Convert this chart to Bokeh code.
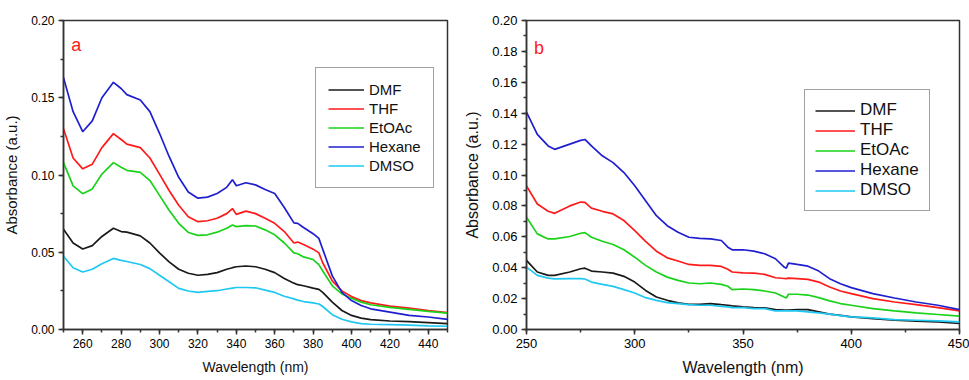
from bokeh.plotting import figure
from bokeh.layouts import row
from bokeh.models import SingleIntervalTicker, PrintfTickFormatter, Legend, LegendItem, Label, Range1d
from bokeh.embed import file_html
from bokeh.resources import INLINE

# ---------------- Panel a data ----------------
wl_a = [250, 255, 260, 265, 270, 276, 280, 283, 290, 295, 300, 305, 310, 315, 320, 325, 330, 335, 338, 340,
        345, 350, 355, 360, 365, 370, 372, 375, 380, 383, 385, 390, 395, 400, 405, 410, 420, 430, 440, 450]
dmf_a = [.0649, .056, .0521, .0543, .0602, .0655, .0634, .063, .0606, .056, .0496, .0438, .039, .0364, .0351, .0357,
         .0368, .039, .040, .0406, .0411, .0406, .039, .0368, .033, .030, .029, .0283, .0268, .026, .024, .0177, .0123,
         .0091, .0074, .0064, .0055, .0051, .0045, .0038]
thf_a = [.130, .111, .104, .107, .1177, .1268, .123, .120, .1177, .111, .1006, .090, .0804, .073, .0698, .0704, .072,
         .075, .0783, .0745, .0766, .075, .072, .0687, .0634, .056, .0566, .055, .052, .0496, .0432, .0315, .025,
         .0213, .0187, .0172, .0151, .0138, .0123, .0109]
etoac_a = [.108, .093, .0879, .091, .1006, .108, .105, .103, .1017, .0964, .0868, .0772, .0687, .0628, .0609, .0613,
           .063, .0655, .0677, .0666, .0672, .067, .0645, .0613, .056, .0496, .049, .047, .0453, .042, .0379, .0283,
           .023, .0202, .0177, .016, .0143, .013, .0117, .0106]
hexane_a = [.163, .141, .128, .135, .150, .160, .156, .152, .1485, .141, .127, .112, .0985, .089, .085, .0857, .088,
            .092, .097, .093, .095, .0936, .0906, .088, .079, .069, .0687, .066, .062, .059, .052, .0347, .024, .0187,
            .0155, .0134, .0113, .0091, .0081, .0066]
dmso_a = [.0474, .040, .0372, .039, .0425, .046, .0447, .044, .0421, .0394, .0351, .0309, .0266, .0249, .024, .0247,
          .0251, .0262, .0268, .0272, .0272, .027, .0255, .024, .0215, .0198, .019, .0181, .0172, .0165, .0149, .0096,
          .0066, .0049, .0038, .0034, .0032, .0028, .0023, .0021]

# ---------------- Panel b data ----------------
wl_b = [250, 255, 260, 263, 270, 275, 277, 280, 285, 290, 295, 300, 305, 310, 315, 320, 325, 330, 335, 340,
        343, 345, 350, 355, 360, 365, 369, 370, 371, 375, 380, 385, 390, 395, 400, 410, 420, 430, 440, 450]
dmf_b = [.0447, .0372, .035, .035, .0372, .0393, .0397, .0378, .0372, .0365, .0344, .0307, .0253, .021, .0189, .0172,
         .0163, .0163, .0168, .0161, .0157, .0153, .0146, .0142, .014, .0129, .0126, .0125, .0126, .0129, .0129, .0114,
         .0099, .0092, .0082, .0071, .006, .0054, .0049, .0039]
thf_b = [.093, .0812, .0765, .0752, .080, .0825, .0823, .0786, .0765, .0748, .0705, .064, .0571, .0507, .0464, .0443,
         .0421, .0415, .0415, .0408, .039, .0372, .0367, .0365, .0357, .0335, .033, .0329, .0332, .0329, .0324, .0307,
         .0275, .0249, .0232, .020, .0178, .0161, .0142, .012]
etoac_b = [.0726, .0619, .0586, .0586, .0602, .0623, .0627, .0597, .0571, .055, .0516, .0468, .0415, .0372, .0339,
           .0318, .0301, .0296, .0301, .0292, .028, .0258, .0262, .0258, .0249, .0236, .021, .0204, .0228, .0228,
           .0223, .0206, .0185, .0168, .0157, .0135, .012, .0107, .0097, .0086]
hexane_b = [.1407, .1263, .1188, .1166, .120, .1224, .123, .1188, .1124, .108, .1016, .093, .0833, .0737, .0672,
            .0629, .0597, .059, .0586, .0576, .0533, .0516, .0516, .0507, .049, .0458, .0404, .0397, .043, .0421,
            .041, .0378, .0329, .0296, .0271, .0232, .0204, .0178, .0157, .0129]
dmso_b = [.0404, .035, .0333, .0328, .0329, .0329, .0327, .0307, .0292, .0279, .0258, .0236, .0206, .0189, .0174,
          .0168, .0161, .0157, .0157, .015, .0146, .0142, .0142, .0135, .0135, .012, .012, .012, .012, .012, .0114,
          .0107, .0099, .009, .0082, .0075, .0064, .006, .0056, .0049]

solvents = ["DMF", "THF", "EtOAc", "Hexane", "DMSO"]
colors = ["#1a1a1a", "#ff1a1a", "#1ad21a", "#1f1fd0", "#1ec8f2"]
FONT = "Liberation Sans"


def make_panel(width, border_left, border_right, border_top, border_bottom, wl, series, x_int, y_int, y_max,
               tick_fs, title_fs, legend_fs, legend_loc, legend_pad, glyph_w, letter, letter_pos):
    p = figure(width=width, height=380, output_backend="svg", toolbar_location=None,
               x_range=Range1d(250, 450), y_range=Range1d(0, y_max),
               min_border_left=border_left, min_border_right=border_right,
               min_border_top=border_top, min_border_bottom=border_bottom)
    p.grid.visible = False
    p.outline_line_color = "#333333"
    p.outline_line_width = 1.5
    p.background_fill_color = "white"
    p.border_fill_color = "white"

    p.xaxis.ticker = SingleIntervalTicker(interval=x_int, num_minor_ticks=2)
    p.yaxis.ticker = SingleIntervalTicker(interval=y_int, num_minor_ticks=2)
    p.yaxis.formatter = PrintfTickFormatter(format="%.2f")
    for ax in (p.xaxis, p.yaxis):
        ax.axis_line_color = "#333333"
        ax.axis_line_width = 1.5
        ax.major_tick_line_color = "#333333"
        ax.minor_tick_line_color = "#333333"
        ax.major_tick_line_width = 1.5
        ax.minor_tick_line_width = 1.5
        ax.major_tick_in = 0
        ax.major_tick_out = 5
        ax.minor_tick_in = 0
        ax.minor_tick_out = 3
        ax.major_label_text_font = FONT
        ax.major_label_text_font_size = f"{tick_fs}px"
        ax.major_label_text_color = "#000000"
        ax.major_label_standoff = 4
        ax.axis_label_text_font = FONT
        ax.axis_label_text_font_style = "normal"
        ax.axis_label_text_color = "#111111"
    p.xaxis.axis_label_text_font_size = f"{title_fs}px"
    p.yaxis.axis_label_text_font_size = "15px" if title_fs < 15 else f"{title_fs}px"
    p.xaxis.axis_label = "Wavelength (nm)"
    p.yaxis.axis_label = "Absorbance (a.u.)"
    p.xaxis.axis_label_standoff = 8
    p.yaxis.axis_label_standoff = 8

    items = []
    for name, ys, c in zip(solvents, series, colors):
        r = p.line(wl, ys, line_color=c, line_width=1.7)
        items.append(LegendItem(label=name, renderers=[r]))
    leg = Legend(items=items, location=legend_loc)
    leg.label_text_font = FONT
    leg.label_text_font_size = f"{legend_fs}px"
    leg.label_text_color = "#111111"
    leg.glyph_width = glyph_w
    leg.glyph_height = 19
    leg.label_height = 19
    leg.spacing = 0
    leg.padding = legend_pad
    leg.margin = 0
    leg.label_standoff = 5
    leg.border_line_color = "#444444"
    leg.border_line_width = 1.5
    leg.background_fill_alpha = 1
    p.add_layout(leg)

    p.add_layout(Label(x=letter_pos[0], y=letter_pos[1], text=letter, text_color="#ff1a1a",
                       text_font=FONT, text_font_size="18px", text_baseline="alphabetic"))
    return p


pa = make_panel(460, 63, 13, 18, 49, wl_a, [dmf_a, thf_a, etoac_a, hexane_a, dmso_a], 20, 0.05, 0.20,
                12, 14, 15, (252, 141), 12, 36, "a", (254, 0.184))
pb = make_panel(509, 66, 10, 20, 51, wl_b, [dmf_b, thf_b, etoac_b, hexane_b, dmso_b], 50, 0.02, 0.20,
                13, 16, 17, (278, 118), 10, 40, "b", (253.5, 0.1825))

layout = row(pa, pb)
open("out.html", "w").write(file_html(layout, INLINE))
